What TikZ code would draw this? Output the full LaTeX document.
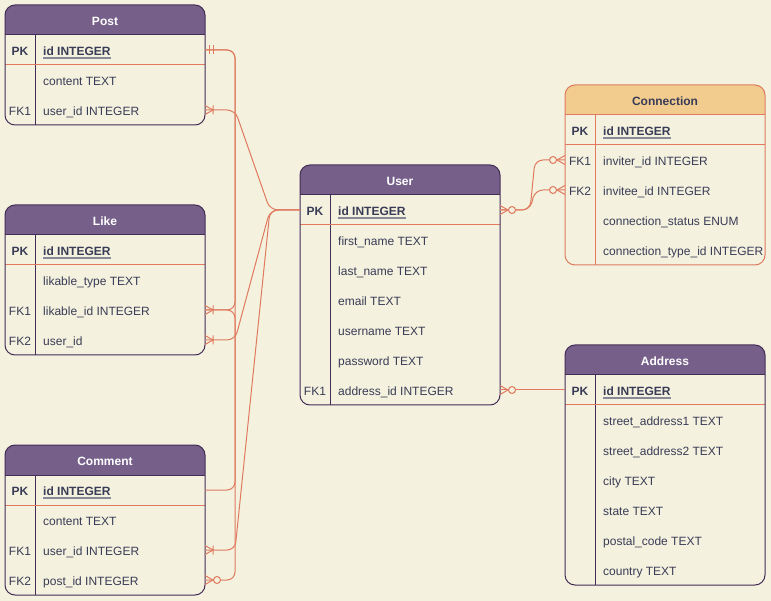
\documentclass[tikz,border=0pt]{standalone}
\usepackage{fontspec}
\setmainfont{Liberation Sans}
\usetikzlibrary{calc}

\definecolor{bgc}{HTML}{F4F1DE}
\definecolor{salmon}{HTML}{E07A5F}
\definecolor{hdr}{HTML}{76608A}
\definecolor{hdrline}{HTML}{432D57}
\definecolor{txt}{HTML}{393C56}
\definecolor{sand}{HTML}{F2CC8F}

\tikzset{
  rowcell/.style={minimum width=200pt, minimum height=30pt, inner sep=0pt, outer sep=0pt},
  keytxt/.style={anchor=base, inner sep=0pt, text=txt, font=\fontsize{12}{14}\selectfont},
  keybold/.style={anchor=base, inner sep=0pt, text=txt, font=\fontsize{12}{14}\selectfont\bfseries},
  fieldtxt/.style={anchor=base west, inner sep=0pt, text=txt, font=\fontsize{12}{14}\selectfont},
  fieldbold/.style={anchor=base west, inner sep=0pt, text=txt, font=\fontsize{12}{14}\selectfont\bfseries},
  titletxt/.style={anchor=base, inner sep=0pt, text=white, font=\fontsize{12}{14}\selectfont\bfseries},
  rel/.style={draw=salmon, line width=1pt, rounded corners=8pt},
  mandone/.pic={\draw[salmon, line width=1pt] (4,-4.5) -- (4,4.5) (8,-4.5) -- (8,4.5);},
  onemany/.pic={\draw[salmon, line width=1pt] (0,-4.5) -- (8,0) -- (0,4.5) (8,-4.5) -- (8,4.5);},
  zeromany/.pic={\draw[salmon, line width=1pt] (0,-4.5) -- (8,0) -- (0,4.5);
                 \draw[salmon, fill=bgc, line width=1pt] (12,0) circle (3.5pt);},
}

% \ertable{name}{left}{top}{extra rows}{title}{border colour}{header fill}{key/field list}
\newcommand{\ertable}[8]{%
  \begin{scope}
    \clip[rounded corners=10pt] (#2,#3) rectangle ({#2+200},{#3+60+30*#4});
    \fill[#7] (#2,#3) rectangle ({#2+200},{#3+30});
  \end{scope}
  \node[titletxt] (#1-title) at ({#2+100},{#3+20.5}) {#5};
  \draw[#6, line width=1pt] (#2,{#3+30}) -- ({#2+200},{#3+30});
  \draw[#6, line width=1pt] ({#2+30},{#3+30}) -- ({#2+30},{#3+60+30*#4});
  \draw[salmon, line width=1pt] (#2,{#3+60}) -- ({#2+200},{#3+60});
  \draw[#6, line width=1pt, rounded corners=10pt] (#2,#3) rectangle ({#2+200},{#3+60+30*#4});
  \node[rowcell] (#1-1) at ({#2+100},{#3+45}) {};
  \node[keybold] at ({#2+15},{#3+50.5}) {PK};
  \node[fieldbold] (#1-pk) at ({#2+38},{#3+50.5}) {id INTEGER};
  \draw[txt!60, line width=1.2pt] ($(#1-pk.base west)+(0,2.5)$) -- ($(#1-pk.base east)+(0,2.5)$);
  \foreach \k/\t [count=\i from 2] in {#8} {
    \node[rowcell] (#1-\i) at ({#2+100},{#3+15+30*\i}) {};
    \node[keytxt] at ({#2+15},{#3+20.5+30*\i}) {\k};
    \node[fieldtxt] at ({#2+38},{#3+20.5+30*\i}) {\t};
  }%
}

\begin{document}
\begin{tikzpicture}[x=1pt, y=-1pt]
  \fill[bgc] (0,0) rectangle (771,601);
  \useasboundingbox (0,0) rectangle (771,601);

  % entities
  \ertable{post}{5}{5}{2}{Post}{hdrline}{hdr}{/content TEXT, FK1/user\_id INTEGER}
  \ertable{like}{5}{205}{3}{Like}{hdrline}{hdr}{/likable\_type TEXT, FK1/likable\_id INTEGER, FK2/user\_id}
  \ertable{comment}{5}{445}{3}{Comment}{hdrline}{hdr}{/content TEXT, FK1/user\_id INTEGER, FK2/post\_id INTEGER}
  \ertable{user}{300}{165}{6}{User}{hdrline}{hdr}{/first\_name TEXT, /last\_name TEXT, /email TEXT, /username TEXT, /password TEXT, FK1/address\_id INTEGER}
  \ertable{conn}{565}{85}{4}{\textcolor{txt}{Connection}}{salmon}{sand}{FK1/inviter\_id INTEGER, FK2/invitee\_id INTEGER, /connection\_status ENUM, /connection\_type\_id INTEGER}
  \ertable{addr}{565}{345}{6}{Address}{hdrline}{hdr}{/street\_address1 TEXT, /street\_address2 TEXT, /city TEXT, /state TEXT, /postal\_code TEXT, /country TEXT}

  % relationships
  \draw[rel] (comment-4.east) -- ++(30,0) |- (post-1.east);
  \draw[rel] (like-3.east) -- ++(30,0) |- (post-1.east);
  \draw[rel] (comment-1.east) -- ++(30,0) |- (like-3.east);
  \draw[rel] (post-3.east) -- ++(30,0) -- ($(user-1.west)+(-30,0)$) -- (user-1.west);
  \draw[rel] (like-4.east) -- ++(30,0) -- ($(user-1.west)+(-30,0)$) -- (user-1.west);
  \draw[rel] (comment-3.east) -- ++(30,0) -- ($(user-1.west)+(-30,0)$) -- (user-1.west);
  \draw[rel] (user-1.east) -- ++(30,0) -- ($(conn-2.west)+(-30,0)$) -- (conn-2.west);
  \draw[rel] (user-1.east) -- ++(30,0) -- ($(conn-3.west)+(-30,0)$) -- (conn-3.west);
  \draw[rel] (user-7.east) -- (addr-1.west);

  % cardinality marks
  \pic at (post-1.east) {mandone};
  \pic at (post-3.east) {onemany};
  \pic at (like-3.east) {onemany};
  \pic at (like-4.east) {onemany};
  \pic at (comment-3.east) {onemany};
  \pic at (comment-4.east) {zeromany};
  \pic at (user-1.east) {zeromany};
  \pic at (user-7.east) {zeromany};
  \pic[rotate=180] at (conn-2.west) {zeromany};
  \pic[rotate=180] at (conn-3.west) {zeromany};
\end{tikzpicture}
\end{document}
